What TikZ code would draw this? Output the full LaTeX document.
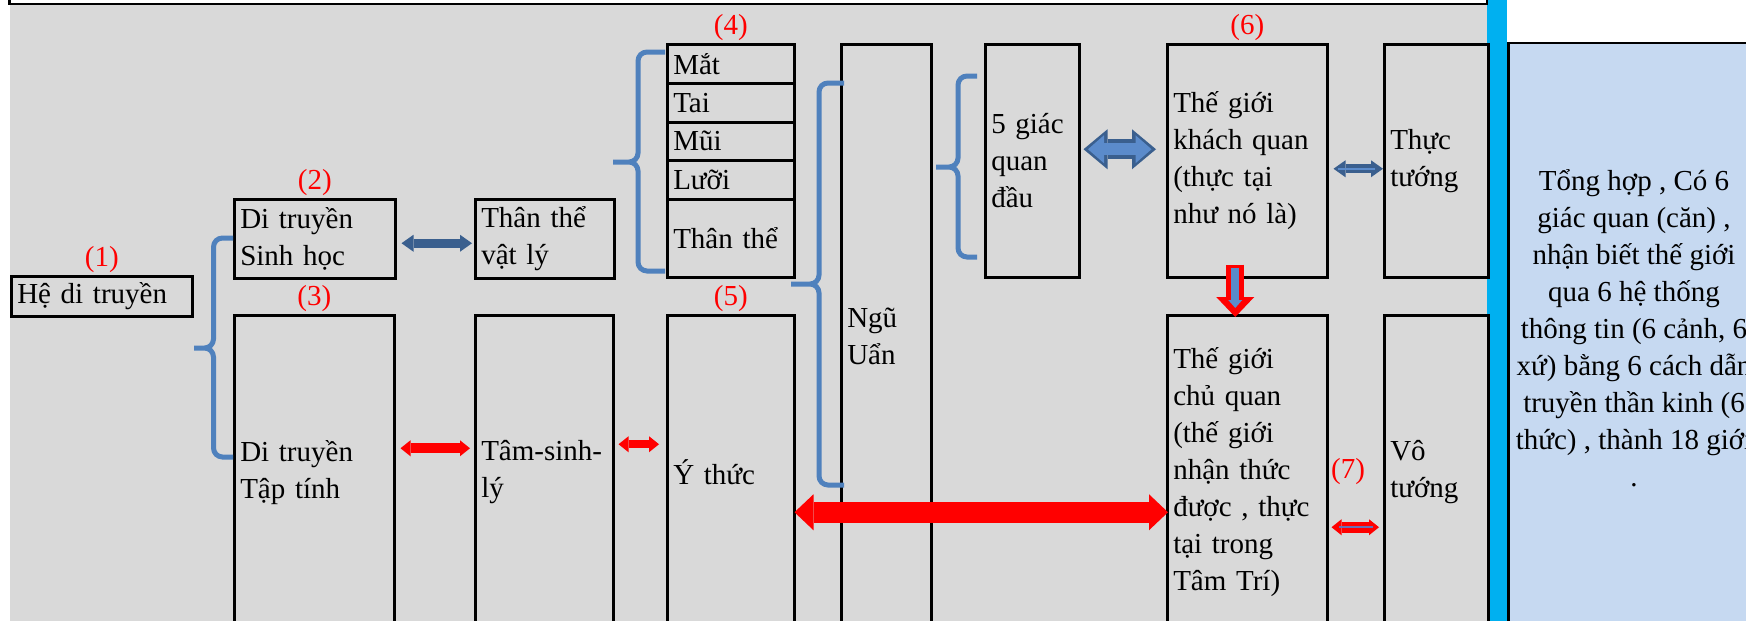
\documentclass[tikz,border=0pt]{standalone}
\usepackage{fontspec}
\setmainfont{Liberation Serif}
\usetikzlibrary{arrows.meta}

\definecolor{bggray}{HTML}{D9D9D9}
\definecolor{braceblue}{HTML}{4F81BD}
\definecolor{arrowdark}{HTML}{3A5F8E}
\definecolor{fillblue}{HTML}{5B8BCB}
\definecolor{barcyan}{HTML}{00B0F0}
\definecolor{panelblue}{HTML}{C6D9F1}
\definecolor{thinviolet}{HTML}{6A6FB5}

\tikzset{
  box/.style={draw, line width=2.5pt, anchor=north west, inner xsep=6pt, inner ysep=0pt, align=left},
  num/.style={text=red, inner sep=2pt},
  brk/.style={draw=braceblue, line width=5pt, rounded corners=9pt},
  darkarrow/.style={draw=arrowdark, line width=9pt, >={Triangle[width=17pt,length=12pt,line width=0pt]}, <->},
  redarrow/.style={draw=red, line width=10pt, >={Triangle[width=16pt,length=10pt,line width=0pt]}, <->},
  bigred/.style={draw=red, line width=21pt, >={Triangle[width=36pt,length=19pt,line width=0pt]}, <->},
  fatout/.style={draw=arrowdark, line width=20pt, >={Triangle[width=40pt,length=24pt,line width=0pt]}, <->},
  fatin/.style={draw=fillblue, line width=12pt, >={Triangle[width=28pt,length=16pt,line width=0pt]}, <->},
  downout/.style={draw=red, line width=18pt, -{Triangle[width=38pt,length=20pt,line width=0pt]}},
  downin/.style={draw=fillblue, line width=8pt, -{Triangle[width=14pt,length=8pt,line width=0pt]}},
  thin/.style={line width=1.8pt}
}

\begin{document}
\begin{tikzpicture}[x=1pt, y=-1pt, font=\fontsize{29}{37}\selectfont]
\useasboundingbox (0,0) rectangle (1746,621);
\clip (0,0) rectangle (1746,621);

% background, side bar and summary panel
\fill[bggray] (9.6,4) rectangle (1487,640);
\fill[barcyan] (1487,-10) rectangle (1507,640);
\draw[line width=2.5pt, fill=panelblue] (1508.5,43) rectangle (1790,660);
\draw[line width=2.5pt] (9.6,-30) rectangle (1487,4);
\node[align=center] (tong) at (1634,328) {Tổng hợp , Có 6\\giác quan (căn) ,\\nhận biết thế giới\\qua 6 hệ thống\\thông tin (6 cảnh, 6\\xứ) bằng 6 cách dẫn\\truyền thần kinh (6\\thức) , thành 18 giới\\.};

% boxes
\node[box, minimum width=181, minimum height=40, text width=169pt, label={[num]above:(1)}] (he) at (10,275) {Hệ di truyền};
\node[box, minimum width=161, minimum height=79, text width=149pt, label={[num]above:(2)}] (sinh) at (233,198) {Di truyền\\Sinh học};
\node[box, minimum width=139, minimum height=79, text width=127pt] (vatly) at (474,198) {Thân thể\\vật lý};
\node[box, minimum width=160, minimum height=314, text width=148pt, label={[num]above:(3)}] (taptinh) at (233,314) {Di truyền\\Tập tính};
\node[box, minimum width=138, minimum height=314, text width=126pt] (tamsinh) at (474,314) {Tâm-sinh-\\lý};

\node[box, minimum width=127, minimum height=39, text width=115pt, label={[num]above:(4)}] (mat) at (666,43) {Mắt};
\node[box, minimum width=127, minimum height=39, text width=115pt] (tai) at (666,82) {Tai};
\node[box, minimum width=127, minimum height=38, text width=115pt] (mui) at (666,121) {Mũi};
\node[box, minimum width=127, minimum height=39, text width=115pt] (luoi) at (666,159) {Lưỡi};
\node[box, minimum width=127, minimum height=78, text width=115pt] (than) at (666,198) {Thân thể};
\node[box, minimum width=127, minimum height=314, text width=115pt, label={[num]above:(5)}] (ythuc) at (666,314) {Ý thức};

\node[box, minimum width=90, minimum height=584, text width=78pt] (nguuan) at (840,43) {Ngũ\\Uẩn};
\node[box, minimum width=94, minimum height=233, text width=82pt] (giac) at (984,43) {5 giác\\quan\\đầu};

\node[box, minimum width=160, minimum height=233, text width=148pt, label={[num]above:(6)}] (khach) at (1166,43) {Thế giới\\khách quan\\(thực tại\\như nó là)};
\node[box, minimum width=104, minimum height=233, text width=92pt] (thuc) at (1383,43) {Thực\\tướng};
\node[box, minimum width=160, minimum height=314, text width=148pt] (chu) at (1166,314) {Thế giới\\chủ quan\\(thế giới\\nhận thức\\được , thực\\tại trong\\Tâm Trí)};
\node[box, minimum width=104, minimum height=314, text width=92pt] (vo) at (1383,314) {Vô\\tướng};
\node[num] (seven) at (1348,472) {(7)};

% braces
\draw[brk] (233,238) -- (213.5,238) -- (213.5,348) -- (194,348) (194,348) -- (213.5,348) -- (213.5,457) -- (233,457);
\draw[brk] (665,52) -- (638,52) -- (638,162) -- (613,162) (613,162) -- (638,162) -- (638,271) -- (665,271);
\draw[brk] (844,83) -- (819,83) -- (819,284) -- (791,284) (791,284) -- (819,284) -- (819,485) -- (844,485);
\draw[brk] (977,76) -- (958,76) -- (958,167) -- (936,167) (936,167) -- (958,167) -- (958,257) -- (977,257);

% arrows
\draw[darkarrow, shorten <=5pt, shorten >=2pt] ([yshift=-4.5pt]sinh.east) -- ([yshift=-4.5pt]vatly.west);
\draw[redarrow, shorten <=5pt, shorten >=4pt] ([yshift=24pt]taptinh.east) -- ([yshift=24pt]tamsinh.west);
\draw[redarrow, line width=8pt, shorten <=4pt, shorten >=7pt] ([yshift=28pt]tamsinh.east) -- ([yshift=28pt]ythuc.west);
\draw[bigred, shorten <=-1pt, shorten >=-2pt] ([yshift=-40pt]ythuc.east) -- ([yshift=-40pt]chu.west);

\draw[fatout, shorten <=3pt, shorten >=10pt] ([yshift=11.5pt]giac.east) -- ([yshift=11.5pt]khach.west);
\draw[fatin, shorten <=7.5pt, shorten >=14.5pt] ([yshift=11.5pt]giac.east) -- ([yshift=11.5pt]khach.west);

\draw[darkarrow, shorten <=5pt, shorten >=0pt] ([yshift=-8pt]khach.east) -- ([yshift=-8pt]thuc.west);
\draw[thin, draw=fillblue, shorten <=9pt, shorten >=8pt] ([yshift=-8pt]khach.east) -- ([yshift=-8pt]thuc.west);

\draw[downout] ([xshift=-12pt,yshift=14pt]khach.south) -- ([xshift=-12pt,yshift=-3pt]chu.north);
\draw[downin, shorten <=3pt, shorten >=9pt] ([xshift=-12pt,yshift=14pt]khach.south) -- ([xshift=-12pt,yshift=-3pt]chu.north);

\draw[redarrow, line width=11pt, shorten <=3pt, shorten >=4pt] ([yshift=-55pt]chu.east) -- ([yshift=-55pt]vo.west);
\draw[thin, draw=thinviolet, shorten <=10pt, shorten >=10pt] ([yshift=-55pt]chu.east) -- ([yshift=-55pt]vo.west);
\end{tikzpicture}
\end{document}
